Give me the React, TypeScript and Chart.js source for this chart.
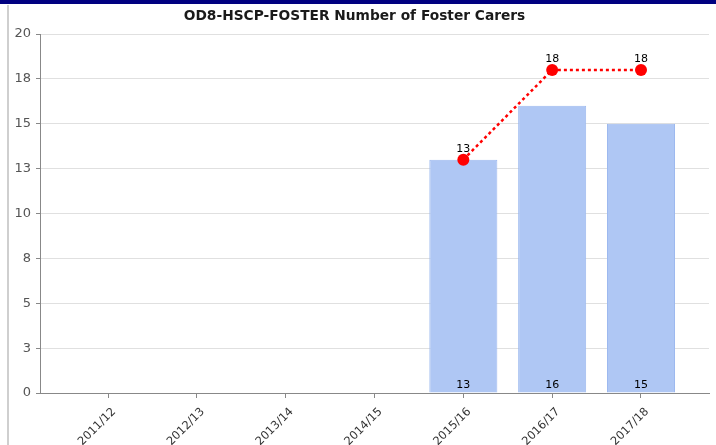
import React, { useEffect, useRef } from "react";
import { Chart, registerables } from "chart.js";

Chart.register(...registerables);

const categories = ["2011/12", "2012/13", "2013/14", "2014/15", "2015/16", "2016/17", "2017/18"];
const barValues: (number | null)[] = [null, null, null, null, 13, 16, 15];
const lineValues: (number | null)[] = [null, null, null, null, 13, 18, 18];
const titleText = "OD8-HSCP-FOSTER Number of Foster Carers";
const yMin = 0;
const yMax = 20;
const yStep = 2.5;

const valueLabels = {
  id: "valueLabels",
  afterDatasetsDraw(chart: any) {
    const ctx = chart.ctx;
    ctx.save();
    ctx.font = '11px "DejaVu Sans"';
    ctx.fillStyle = "#000";
    ctx.textAlign = "center";
    ctx.textBaseline = "alphabetic";
    chart.data.datasets.forEach((ds: any, di: number) => {
      const meta = chart.getDatasetMeta(di);
      meta.data.forEach((el: any, i: number) => {
        const v = ds.data[i].y;
        if (v == null) return;
        if (meta.type === "bar") {
          ctx.fillText(String(v), el.x, chart.chartArea.bottom - 5);
        } else {
          ctx.fillText(String(v), el.x, el.y - 8);
        }
      });
    });
    ctx.restore();
  },
};

export default function App() {
  const ref = useRef<HTMLCanvasElement>(null);
  useEffect(() => {
    const canvas = ref.current!;
    const n = categories.length;
    const edge = 0.7655;
    const chart = new Chart(canvas, {
      type: "bar",
      data: {
        datasets: [
          {
            type: "line",
            data: lineValues.map((v, i) => ({ x: i, y: v })) as any,
            borderColor: "#ff0000",
            borderWidth: 2.5,
            borderDash: [3, 3],
            pointRadius: 6,
            pointHoverRadius: 6,
            pointBackgroundColor: "#ff0000",
            pointBorderWidth: 0,
            fill: false,
            order: 0,
          } as any,
          {
            type: "bar",
            data: barValues.map((v, i) => ({ x: i, y: v })) as any,
            backgroundColor: "#afc7f4",
            borderColor: "#9db9ef",
            borderWidth: 1,
            categoryPercentage: 1,
            barPercentage: 0.766,
            order: 1,
          } as any,
        ],
      },
      options: {
        animation: false,
        responsive: false,
        devicePixelRatio: 1,
        layout: { padding: { top: 4, right: 7, bottom: 0, left: 0 } },
        plugins: {
          legend: { display: false },
          tooltip: { enabled: false },
          title: {
            display: true,
            text: titleText,
            color: "#1a1a1a",
            font: { family: "DejaVu Sans", size: 13.75, weight: "bold" },
            padding: { top: 4.5, bottom: 9 },
          },
        },
        scales: {
          x: {
            type: "linear",
            min: -edge,
            max: n - 1 + edge,
            bounds: "data",
            offset: false,
            afterBuildTicks: (scale: any) => {
              scale.ticks = categories.map((_, i) => ({ value: i }));
            },
            afterFit: (scale: any) => {
              scale.height = 52;
            },
            ticks: {
              autoSkip: false,
              minRotation: 45,
              maxRotation: 45,
              padding: 7,
              labelOffset: 6,
              color: "#333",
              font: { family: "DejaVu Sans", size: 11.5 },
              callback: (v: any) => categories[Math.round(Number(v))] ?? "",
            },
            grid: {
              offset: false,
              drawOnChartArea: false,
              drawTicks: true,
              tickLength: 5,
              tickColor: "#888",
            },
            border: { display: true, color: "#888", width: 1 },
          } as any,
          y: {
            type: "linear",
            min: yMin,
            max: yMax,
            afterFit: (scale: any) => {
              scale.width = 40;
            },
            ticks: {
              stepSize: yStep,
              padding: 5,
              color: "#555",
              font: { family: "DejaVu Sans", size: 13 },
              callback: (v: any) => String(Math.round(Number(v))),
            },
            grid: {
              color: "#e0e0e0",
              lineWidth: 1,
              tickLength: 4,
              tickColor: "#888",
            },
            border: { display: true, color: "#888", width: 1 },
          } as any,
        },
      },
      plugins: [valueLabels],
    });
    return () => chart.destroy();
  }, []);

  return (
    <div style={{ position: "fixed", left: 0, top: 0, width: 716, height: 445, background: "#fff", overflow: "hidden" }}>
      <canvas ref={ref} width={716} height={445} style={{ position: "absolute", left: 0, top: 0, width: 716, height: 445 }} />
      <div style={{ position: "absolute", left: 0, top: 0, width: 716, height: 4, background: "#000080" }} />
      <div style={{ position: "absolute", left: 7, top: 5, width: 2, height: 440, background: "#cfcfcf" }} />
    </div>
  );
}
